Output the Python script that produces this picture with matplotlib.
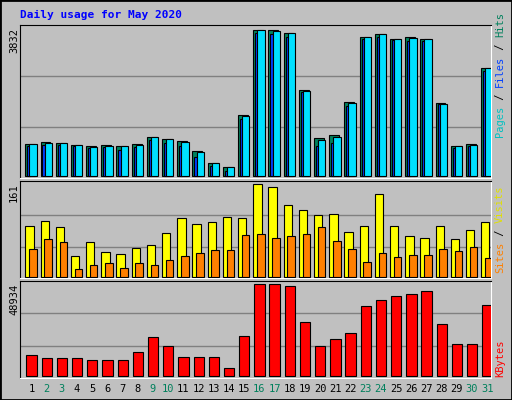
import numpy as np
import matplotlib.pyplot as plt
from matplotlib.patches import Rectangle

days = list(range(1, 32))
weekend = [2, 3, 9, 10, 16, 17, 23, 24, 30, 31]

hits  = [843, 895, 860, 808, 791, 808, 791, 834, 1025, 965, 912, 660, 339, 235, 1590, 3832,
         3820, 3754, 2268, 999, 1078, 1955, 3650, 3728, 3598, 3650, 3598, 1929, 782, 834, 2842]
files = [834, 860, 860, 808, 765, 782, 791, 808, 1025, 965, 886, 625, 339, 235, 1564, 3832,
         3806, 3754, 2242, 947, 1025, 1929, 3650, 3728, 3598, 3624, 3598, 1903, 782, 808, 2842]
pages = [790, 810, 810, 780, 740, 760, 680, 770, 950, 860, 790, 505, 270, 130, 1510, 3740,
         3720, 3650, 2200, 800, 860, 1830, 3580, 3650, 3560, 3540, 3540, 1880, 740, 790, 2760]
visits = [89, 98, 87, 37, 61, 44, 40, 51, 56, 77, 103, 93, 96, 105, 103, 161,
          156, 126, 117, 108, 110, 79, 89, 145, 89, 72, 68, 89, 66, 82, 96]
sites = [49, 66, 61, 14, 21, 24, 16, 24, 21, 30, 37, 42, 47, 47, 73, 75,
         68, 72, 75, 87, 63, 49, 26, 42, 35, 38, 38, 49, 45, 52, 33]
kbytes = [10858, 9256, 9256, 9256, 8188, 8188, 8188, 12460, 20470, 15664, 9790, 9790, 9790, 3916,
          21004, 48934, 48934, 47704, 28480, 15664, 19402, 22606, 37024, 40228, 42364, 43432,
          45034, 27412, 16732, 16732, 37558]

GREY = '#C0C0C0'
W, H = 512, 400
fig = plt.figure(figsize=(W / 100, H / 100), dpi=100, facecolor=GREY)
fig.patches.append(Rectangle((0, 0), 1, 1, transform=fig.transFigure, fill=False,
                             edgecolor='black', lw=2))
MONO = 'DejaVu Sans Mono'

def panel(top, bottom):
    ax = fig.add_axes([20 / W, 1 - bottom / H, 471 / W, (bottom - top) / H])
    ax.set_facecolor(GREY)
    ax.set_xlim(0, 31)
    ax.set_xticks([])
    ax.set_yticks([])
    for s in ['left', 'top']:
        ax.spines[s].set_color('black')
    for s in ['right', 'bottom']:
        ax.spines[s].set_color('white')
    return ax

def bars(ax, vals, x0, x1, color):
    x = np.arange(31) + x0
    ax.bar(x, vals, width=x1 - x0, align='edge', color=color, edgecolor='black', lw=0.8, zorder=3)

def grid(ax, levels):
    for g in levels:
        ax.axhline(g, color='#808080', lw=1, zorder=1)

# top panel: hits / files / pages
ax1 = panel(24.7, 177.7)
ax1.set_ylim(-36, 3963)
grid(ax1, [1281, 2614])
bars(ax1, hits, 0.35, 1.0, '#00805C')
bars(ax1, pages, 0.48, 0.64, '#0040FF')
bars(ax1, files, 0.62, 1.1, '#00E0FF')

# middle panel: visits / sites
ax2 = panel(180.7, 278)
ax2.set_ylim(-1.2, 167.3)
grid(ax2, [53, 108])
bars(ax2, visits, 0.35, 0.9, '#FFFF00')
bars(ax2, sites, 0.6, 1.1, '#FF8000')

# bottom panel: kbytes
ax3 = panel(280.7, 378)
ax3.set_ylim(-1227, 50695)
grid(ax3, [15640, 33250])
bars(ax3, kbytes, 0.42, 1.1, '#FF0000')

for d in days:
    c = '#00805C' if d in weekend else 'black'
    ax3.text(d - 1 + 0.75, -0.11, str(d), transform=ax3.get_xaxis_transform(),
             ha='center', va='center', fontsize=7.5, family=MONO, color=c)

fig.text(20 / W, 1 - 15 / H, 'Daily usage for May 2020', color='#0000FF', fontsize=8,
         family=MONO, fontweight='bold', va='center')
fig.text(14 / W, 1 - 28 / H, '3832', rotation=90, ha='center', va='top', fontsize=7.5, family=MONO)
fig.text(14 / W, 1 - 183 / H, '161', rotation=90, ha='center', va='top', fontsize=7.5, family=MONO)
fig.text(14 / W, 1 - 284 / H, '48934', rotation=90, ha='center', va='top', fontsize=7.5, family=MONO)

def side(y_bottom, parts):
    y = 1 - y_bottom / H
    for txt, col in parts:
        t = fig.text(500 / W, y, txt, rotation=90, ha='center', va='bottom', fontsize=7.5,
                     family=MONO, color=col)
        fig.canvas.draw()
        bb = t.get_window_extent()
        y += bb.height / H

side(137, [('Pages', '#00C0C0'), (' / ', 'black'), ('Files', '#0040FF'), (' / ', 'black'), ('Hits', '#00805C')])
side(273, [('Sites', '#FF8000'), (' / ', 'black'), ('Visits', '#E0E000')])
side(377, [('KBytes', '#FF0000')])

fig.savefig('out.png', dpi=100, facecolor=GREY)
